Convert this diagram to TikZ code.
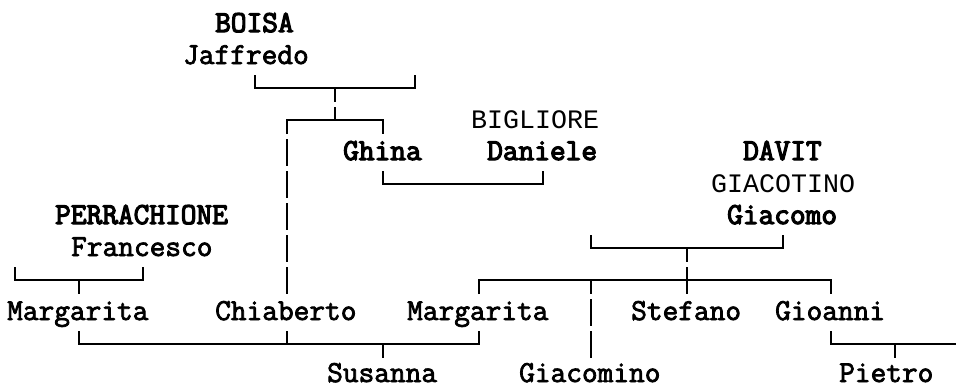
\documentclass[tikz,border=0pt]{standalone}
\usepackage{fontspec}
\newfontfamily\lmm{Latin Modern Mono}[FakeBold=2.5]
\newfontfamily\lmmb{Latin Modern Mono}[FakeBold=4]
\newfontfamily\libm{Liberation Mono}
\begin{document}
\begin{tikzpicture}[x=1pt,y=-1pt,
  pname/.style={anchor=base west, inner sep=0pt, text depth=0pt, font=\lmm\fontsize{30.48}{32}\selectfont},
  pbname/.style={anchor=base west, inner sep=0pt, text depth=0pt, font=\lmmb\fontsize{30.48}{32}\selectfont},
  psname/.style={anchor=base west, inner sep=0pt, text depth=0pt, font=\libm\fontsize{26.67}{32}\selectfont},
  link/.style={line width=2pt, line cap=butt, line join=miter}]
\useasboundingbox (0,0) rectangle (956,388);
% names
\node[pbname] (boisa) at (215,32) {BOISA};
\node[pname]  (jaffredo) at (183,64) {Jaffredo};
\node[psname] (bigliore) at (471,128) {BIGLIORE};
\node[pbname] (ghina) at (343,160) {Ghina};
\node[pbname] (daniele) at (487,160) {Daniele};
\node[pbname] (davit) at (743,160) {DAVIT};
\node[psname] (giacotino) at (711,192) {GIACOTINO};
\node[pbname] (perrachione) at (55,224) {PERRACHIONE};
\node[pbname] (giacomo) at (727,224) {Giacomo};
\node[pname]  (francesco) at (71,256) {Francesco};
\node[pname]  (margarita1) at (7,320) {Margarita};
\node[pname]  (chiaberto) at (215,320) {Chiaberto};
\node[pname]  (margarita2) at (407,320) {Margarita};
\node[pname]  (stefano) at (631,320) {Stefano};
\node[pname]  (gioanni) at (775,320) {Gioanni};
\node[pname]  (susanna) at (327,382) {Susanna};
\node[pname]  (giacomino) at (519,382) {Giacomino};
\node[pname]  (pietro) at (839,382) {Pietro};
% junction coordinates
\coordinate (jafL) at (255,75);  \coordinate (jafR) at (415,75);
\coordinate (jafLb) at (255,88); \coordinate (jafRb) at (415,88);
\coordinate (jafM) at (335,88);  \coordinate (jafMd) at (335,102);
\coordinate (sibMu) at (335,107); \coordinate (sibM) at (335,120);
\coordinate (sibL) at (287,120); \coordinate (sibR) at (383,120);
\coordinate (sibLd) at (287,134); \coordinate (sibRd) at (383,134);
\coordinate (ghiL) at (383,171); \coordinate (ghiR) at (543,171);
\coordinate (ghiLb) at (383,184); \coordinate (ghiRb) at (543,184);
\coordinate (gcoL) at (591,235); \coordinate (gcoR) at (783,235);
\coordinate (gcoLb) at (591,248); \coordinate (gcoRb) at (783,248);
\coordinate (gcoM) at (687,248); \coordinate (gcoMd) at (687,262);
\coordinate (kidL) at (479,280); \coordinate (kidR) at (831,280);
\coordinate (kidLd) at (479,294); \coordinate (kidRd) at (831,294);
\coordinate (kidA) at (591,280); \coordinate (kidAd) at (591,294);
\coordinate (kidBu) at (687,267); \coordinate (kidBd) at (687,294);
\coordinate (fraL) at (15,267); \coordinate (fraR) at (143,267);
\coordinate (fraLb) at (15,280); \coordinate (fraRb) at (143,280);
\coordinate (fraM) at (79,280); \coordinate (fraMd) at (79,294);
\coordinate (susL) at (79,331); \coordinate (susR) at (479,331);
\coordinate (susLb) at (79,344); \coordinate (susRb) at (479,344);
\coordinate (susC) at (287,331); \coordinate (susCb) at (287,344);
\coordinate (susM) at (383,344); \coordinate (susMd) at (383,358);
\coordinate (pieL) at (831,331); \coordinate (pieLb) at (831,344);
\coordinate (pieE) at (956,344);
\coordinate (pieM) at (895,344); \coordinate (pieMd) at (895,358);
% connectors
\draw[link] (jafL) -- (jafLb) -- (jafRb) -- (jafR);
\draw[link] (jafM) -- (jafMd);
\draw[link] (sibMu) -- (sibM);
\draw[link] (sibLd) -- (sibL) -- (sibR) -- (sibRd);
\foreach \r in {4,...,8} \draw[link] (287,{11+32*\r}) -- (287,{38+32*\r});
\draw[link] (ghiL) -- (ghiLb) -- (ghiRb) -- (ghiR);
\draw[link] (gcoL) -- (gcoLb) -- (gcoRb) -- (gcoR);
\draw[link] (gcoM) -- (gcoMd);
\draw[link] (kidLd) -- (kidL) -- (kidR) -- (kidRd);
\draw[link] (kidA) -- (kidAd);
\draw[link] (kidBu) -- (kidBd);
\foreach \r in {9,10} \draw[link] (591,{11+32*\r}) -- (591,{38+32*\r});
\draw[link] (fraL) -- (fraLb) -- (fraRb) -- (fraR);
\draw[link] (fraM) -- (fraMd);
\draw[link] (susL) -- (susLb) -- (susRb) -- (susR);
\draw[link] (susC) -- (susCb);
\draw[link] (susM) -- (susMd);
\draw[link] (pieL) -- (pieLb) -- (pieE);
\draw[link] (pieM) -- (pieMd);
\end{tikzpicture}
\end{document}
